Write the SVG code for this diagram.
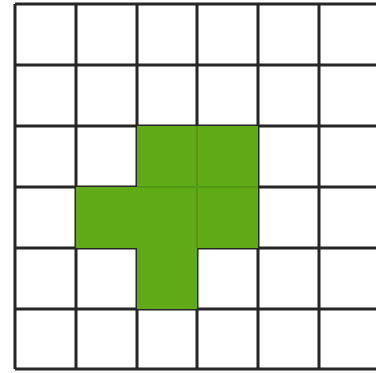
<svg xmlns="http://www.w3.org/2000/svg" width="376" height="373" viewBox="0 0 376 373">
<style>
.g{fill:#60a917}
.l{stroke:#262626;stroke-width:3;fill:none}
.f{stroke:#4f8c14;stroke-width:2;opacity:0.6}
</style>
<rect width="376" height="373" fill="#ffffff"/>
<g id="grid">
<path class="l" d="M15 4V369M76 4V369M137 4V369M197 4V369M258 4V369M319 4V369M380 4V369M15 4H380M15 65H380M15 126H380M15 187H380M15 248H380M15 309H380M15 369H380"/>
</g>
<g id="shape">
<rect class="g" x="137" y="126" width="121" height="61"/>
<rect class="g" x="76" y="187" width="182" height="61"/>
<rect class="g" x="137" y="248" width="60" height="61"/>
<path class="f" d="M197 126V248M137 187H258"/>
</g>
</svg>
